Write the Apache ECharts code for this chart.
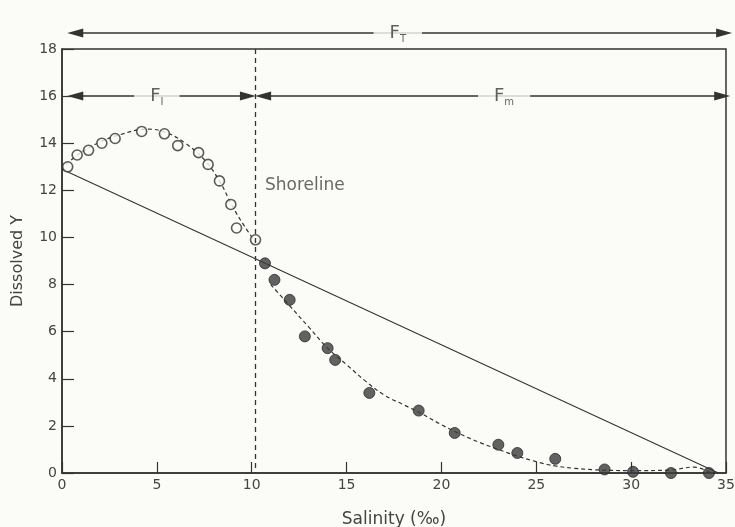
<!DOCTYPE html>
<html><head><meta charset="utf-8">
<script src="https://cdn.jsdelivr.net/npm/echarts@6/dist/echarts.min.js"></script>
<style>html,body{margin:0;padding:0;background:#fbfbf8}#c{width:735px;height:527px}</style>
</head><body><div id="c"></div>
<script>
// Open circles (inshore zone, salinity < shoreline)
const openPts = [[0.3,13.0],[0.8,13.5],[1.4,13.7],[2.1,14.0],[2.8,14.2],[4.2,14.5],[5.4,14.4],[6.1,13.9],[7.2,13.6],[7.7,13.1],[8.3,12.4],[8.9,11.4],[9.2,10.4],[10.2,9.9]];
// Filled circles (marine zone)
const filledPts = [[10.7,8.9],[11.2,8.2],[12.0,7.35],[12.8,5.8],[14.0,5.3],[14.4,4.8],[16.2,3.4],[18.8,2.65],[20.7,1.7],[23.0,1.2],[24.0,0.85],[26.0,0.6],[28.6,0.15],[30.1,0.05],[32.1,0.0],[34.1,0.0]];
// Dashed fitted curves
const curveInshore = [[0.2,13.1],[1,13.6],[2,14.05],[3,14.35],[4.5,14.6],[5.5,14.45],[6.5,14.0],[7.5,13.3],[8.3,12.4],[9.0,11.3],[9.6,10.5],[10.2,9.8]];
const curveMarine = [[11.0,8.0],[12,7.1],[13,6.2],[14,5.3],[15,4.6],[16,3.9],[17,3.3],[18,2.9],[19,2.5],[20,2.05],[21,1.65],[22,1.3],[23,1.0],[24,0.72],[25,0.48],[26,0.3],[27,0.2],[28,0.14],[30,0.1],[32,0.12],[33.3,0.25],[34.2,0.0]];
// Conservative mixing line
const mixLine = [[0,12.9],[34.6,0]];
const shoreline = 10.2;
const xTickLabels = ['0','5','10','15','20','25','30','35'];

const txt = '#444', ink = '#333';
const font = 'DejaVu Sans';
const subRich = {
  f:{fontSize:18,color:'#3a3a3a',fontFamily:font,verticalAlign:'middle',lineHeight:22},
  s:{fontSize:10,color:'#3a3a3a',fontFamily:font,verticalAlign:'bottom',lineHeight:22}
};
function lbl(name, sub, x, y){
  return {value:[x,y], label:{show:true, formatter:'{f|'+name+'}{s|'+sub+'}', rich:subRich,
    backgroundColor:'#fbfbf8', padding:[0,16,0,16], position:'inside'}};
}
const arrowStyle = {color:ink, width:1.6, type:'solid'};
const chart = echarts.init(document.getElementById('c'));
chart.setOption({
  backgroundColor:'#fbfbf8',
  animation:false,
  grid:[
    {left:62, right:9, top:49, bottom:54, show:true, borderColor:ink, borderWidth:1.5, backgroundColor:'transparent', containLabel:false, outerBoundsMode:'none'},
    {left:62, right:9, top:23, height:20, show:false, containLabel:false, outerBoundsMode:'none'}
  ],
  xAxis:[
    {type:'value', gridIndex:0, min:0, max:35, interval:5,
    name:'Salinity (‰)', nameLocation:'middle', nameGap:38,
    nameTextStyle:{color:txt, fontSize:17, fontFamily:font},
    axisLine:{lineStyle:{color:ink,width:1.5}},
    axisTick:{inside:true, length:11, lineStyle:{color:ink,width:1.2}},
    axisLabel:{color:txt, fontSize:14, fontFamily:font, margin:5, formatter:function(v){return xTickLabels[v/5];}},
    splitLine:{show:false}},
    {type:'value', gridIndex:1, min:0, max:35, show:false}
  ],
  yAxis:[
    {type:'value', gridIndex:0, min:0, max:18, interval:2,
    name:'Dissolved Y', nameLocation:'middle', nameGap:36,
    nameTextStyle:{color:txt, fontSize:16, fontFamily:font},
    axisLine:{lineStyle:{color:ink,width:1.5}},
    axisTick:{inside:true, length:12, lineStyle:{color:ink,width:1.2}},
    axisLabel:{color:txt, fontSize:14, fontFamily:font, margin:5},
    splitLine:{show:false}},
    {type:'value', gridIndex:1, min:0, max:1, show:false}
  ],
  series:[
    {type:'line', data:mixLine, symbol:'none', lineStyle:{color:ink,width:1.1}, z:2},
    {type:'line', data:curveInshore, smooth:0.4, symbol:'none', lineStyle:{color:ink,width:1.2,type:[4,3]}, z:2},
    {type:'line', data:curveMarine, smooth:0.4, symbol:'none', lineStyle:{color:ink,width:1.2,type:[4,3]}, z:2},
    {type:'scatter', data:openPts, symbol:'circle', symbolSize:10,
      itemStyle:{color:'#fbfbf8', borderColor:ink, borderWidth:1.6}, z:4},
    {type:'scatter', data:filledPts, symbol:'circle', symbolSize:11,
      itemStyle:{color:'#3c3c3c', borderColor:'#2a2a2a', borderWidth:1}, z:4},
    {type:'scatter', clip:false, symbolSize:0, silent:true, z:6,
      data:[
        lbl('F','I',5.0,16.0),
        lbl('F','m',23.3,16.0),
        {value:[10.7,12.2], label:{show:true, formatter:'Shoreline', position:'right', distance:0,
          color:txt, fontSize:17, fontFamily:font}}
      ],
      markLine:{silent:true, symbol:['triangle','triangle'], symbolSize:[9,16], animation:false,
        label:{show:false}, lineStyle:arrowStyle,
        data:[
          [{coord:[0.7,16.0]},{coord:[9.8,16.0]}],
          [{coord:[10.6,16.0]},{coord:[34.8,16.0]}],
          [{coord:[shoreline,18], symbol:'none', lineStyle:{color:ink,width:1.3,type:[5,4]}},
           {coord:[shoreline,0], symbol:'none'}]
        ]}
    },
    {type:'scatter', xAxisIndex:1, yAxisIndex:1, clip:false, symbolSize:0, silent:true, z:6,
      data:[lbl('F','T',17.7,0.5)],
      markLine:{silent:true, symbol:['triangle','triangle'], symbolSize:[9,16], animation:false,
        label:{show:false}, lineStyle:arrowStyle,
        data:[[{coord:[0.7,0.5]},{coord:[34.9,0.5]}]]}
    }
  ]
});
</script></body></html>
